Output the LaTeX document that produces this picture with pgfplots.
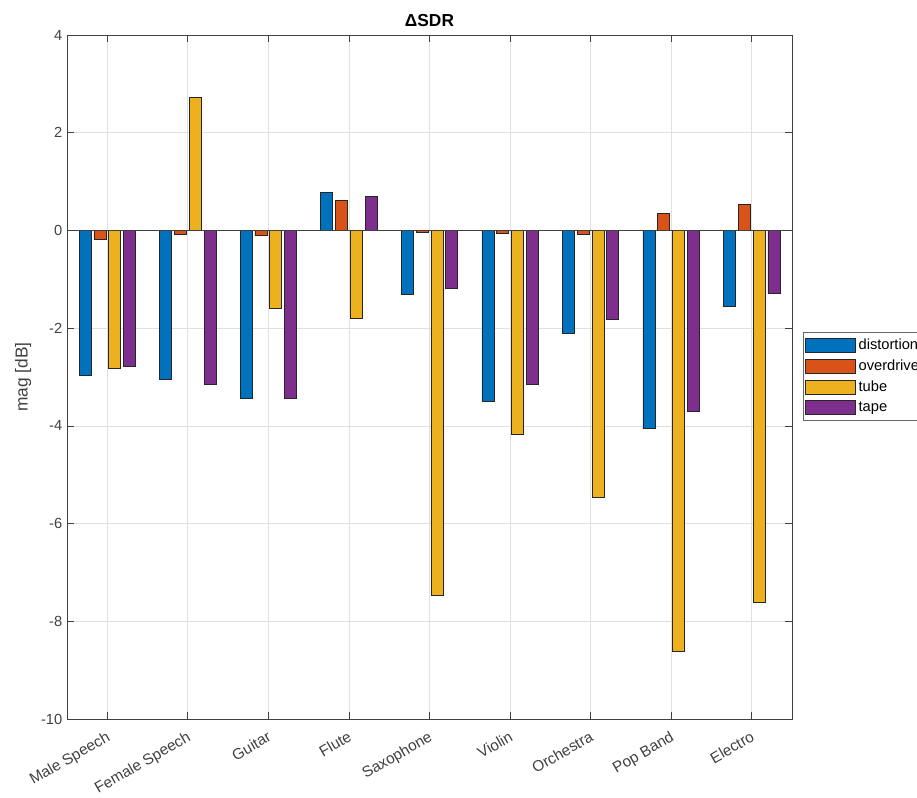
\documentclass[border=0pt]{standalone}
\usepackage{pgfplots}
\pgfplotsset{compat=1.18}
\usepackage{fontspec}
\setmainfont{Liberation Sans}
\definecolor{c1}{rgb}{0,0.447,0.741}
\definecolor{c2}{rgb}{0.850,0.325,0.098}
\definecolor{c3}{rgb}{0.929,0.694,0.125}
\definecolor{c4}{rgb}{0.494,0.184,0.556}
\definecolor{axc}{gray}{0.25}
\pgfplotsset{
  mybar/.style={fill=#1, draw=black!85, line width=0.5pt,
    legend image code/.code={\draw[fill=#1,draw=black!85,line width=0.5pt] (0pt,-5.25pt) rectangle (37.5pt,5.25pt);}},
}
\begin{document}
\begin{tikzpicture}
\useasboundingbox (0,0) rectangle (687.75pt,597.75pt);
\begin{axis}[
  at={(50.25pt,58.5pt)}, anchor=south west,
  scale only axis, width=543.75pt, height=513pt,
  xmin=0.5, xmax=9.5, ymin=-10, ymax=4,
  ytick={-10,-8,...,4},
  xtick={1,...,9},
  xticklabels={Male Speech,Female Speech,Guitar,Flute,Saxophone,Violin,Orchestra,Pop Band,Electro},
  xticklabel style={xshift=-1pt, yshift=-7pt, rotate=30, anchor=north east, font=\fontsize{11.5}{13}\selectfont, text=axc, inner sep=1pt},
  yticklabel style={font=\fontsize{11}{13}\selectfont, text=axc},
  /pgf/number format/assume math mode=true,
  major tick length=5pt,
  tick style={axc, line width=0.5pt},
  axis line style={axc, line width=0.5pt},
  grid=major, grid style={black!12, line width=0.5pt},
  title={\textbf{ΔSDR}},
  title style={font=\fontsize{13}{15}\selectfont, yshift=-3pt},
  ylabel={mag [dB]},
  ylabel style={font=\fontsize{13}{15}\selectfont, text=axc, yshift=0.5pt},
  ybar=0pt, bar width=9pt,
  legend style={at={(1.0152,0.5658)}, anchor=north west, draw=black!60, fill=white,
    font=\fontsize{11}{13}\selectfont, row sep=2.3pt, inner xsep=1.5pt, inner ysep=3pt, cells={anchor=west}},
  legend cell align=left,
  xtick align=inside, ytick align=inside,
]
\addplot[mybar=c1, bar shift=-16.65pt] coordinates {(1,-2.96) (2,-3.04) (3,-3.44) (4,0.77) (5,-1.30) (6,-3.49) (7,-2.10) (8,-4.06) (9,-1.55)};
\addplot[mybar=c2, bar shift=-5.55pt] coordinates {(1,-0.18) (2,-0.09) (3,-0.11) (4,0.62) (5,-0.04) (6,-0.06) (7,-0.08) (8,0.35) (9,0.53)};
\addplot[mybar=c3, bar shift=5.55pt] coordinates {(1,-2.83) (2,2.73) (3,-1.59) (4,-1.80) (5,-7.46) (6,-4.17) (7,-5.46) (8,-8.62) (9,-7.62)};
\addplot[mybar=c4, bar shift=16.65pt] coordinates {(1,-2.79) (2,-3.14) (3,-3.44) (4,0.70) (5,-1.18) (6,-3.14) (7,-1.81) (8,-3.70) (9,-1.29)};
\legend{distortion,overdrive,tube,tape}
\draw[black!75, line width=0.6pt] (axis cs:0.5,0) -- (axis cs:9.5,0);
\end{axis}
\end{tikzpicture}
\end{document}
